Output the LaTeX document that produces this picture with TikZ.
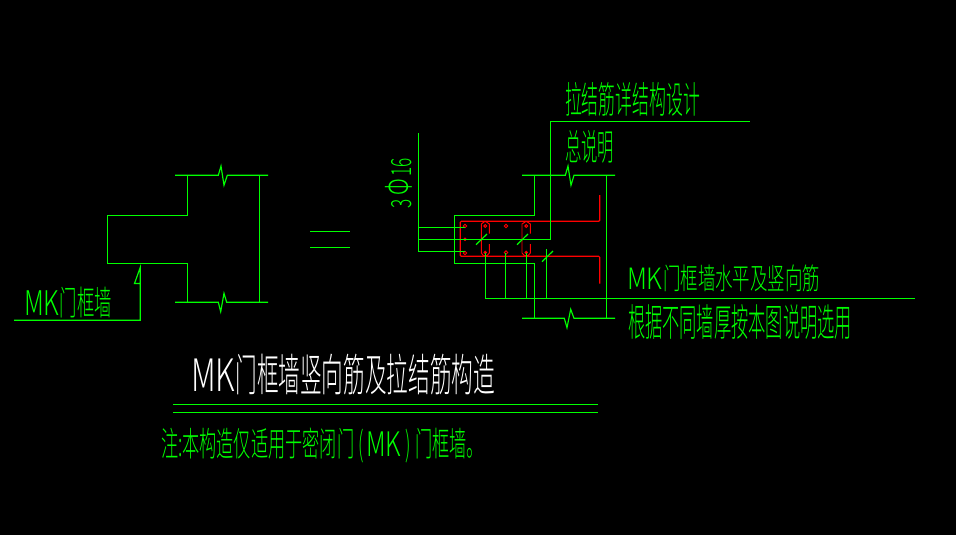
\documentclass[tikz,border=0pt]{standalone}
\usepackage{graphicx}
\usepackage{fontspec}
\newfontfamily\cjk[UprightFont=* Light]{Noto Sans CJK SC}
\definecolor{cadgreen}{RGB}{0,255,0}
\definecolor{cadred}{RGB}{255,0,0}
\newcommand{\fittext}[3]{\resizebox*{#1pt}{#2pt}{\cjk #3}}
\newcommand{\wl}[1]{\makebox[0.98em][c]{\scalebox{1.45}[1]{#1}}}
\tikzset{
  gl/.style={draw=cadgreen,line width=1.15pt},
  rl/.style={draw=cadred,line width=1.15pt},
  bar/.style={draw=cadred,line width=0.95pt},
  barfill/.style={draw=cadred,fill=cadred,line width=0.6pt},
  lab/.style={inner sep=0pt,outer sep=0pt,anchor=north west,text=cadgreen},
  titlelab/.style={lab,text=white}
}
\begin{document}
\begin{tikzpicture}[x=1pt,y=-1pt]
\fill[black] (0,0) rectangle (956,535);
\useasboundingbox (0,0) rectangle (956,535);
% left wall
\draw[gl] (175,175.3) -- (218.3,175.3) -- (221,166) -- (224,185.3) -- (227.3,175.3) -- (268,175.3);
\draw[gl] (187.3,175.3) -- (187.3,215.3) -- (107.3,215.3) -- (107.3,263.3) -- (187.3,263.3) -- (187.3,302.3);
\draw[gl] (175,302.3) -- (218.3,302.3) -- (220.7,311.7) -- (224,293.3) -- (226.7,302.3) -- (268,302.3);
\draw[gl] (259.5,175.3) -- (259.5,302.3);
% equals
\draw[gl] (310,231.3) -- (350,231.3);
\draw[gl] (310,247.3) -- (350,247.3);
% MK leader
\draw[gl] (14,320.3) -- (140.3,320.3) -- (140.3,267.3) -- (134.5,283.5) -- (140.3,283.5);
% right wall
\draw[gl] (522,175.3) -- (565.3,175.3) -- (568,166) -- (571,185.3) -- (574,175.3) -- (615,175.3);
\draw[gl] (534.3,175.3) -- (534.3,215.3) -- (454.3,215.3) -- (454.3,263.3) -- (534.3,263.3) -- (534.3,318.3);
\draw[gl] (522,318.3) -- (564.3,318.3) -- (567,327.7) -- (570.7,309.3) -- (574,318.3) -- (615,318.3);
\draw[gl] (606.3,175.3) -- (606.3,318.3);
% red bars
\draw[rl,rounded corners=1pt] (599.7,195) -- (599.7,221.3) -- (460.3,221.3) -- (460.3,256.3) -- (599.7,256.3) -- (599.7,283.7);
% stirrups
\draw[bar] (489.3,233.7) -- (489.3,224) -- (486,221.7) -- (484.5,221.7) -- (481.3,224) -- (481.3,253) -- (483.5,255.7) -- (487,255.7) -- (489.3,253) -- (489.3,244);
\draw[bar] (530.3,233.7) -- (530.3,224) -- (527,221.7) -- (525.5,221.7) -- (522,224) -- (522,253) -- (524.5,255.7) -- (528,255.7) -- (530.3,253) -- (530.3,244);
% rebars
\draw[bar] (465,226) circle (1.7);
\draw[barfill] (465,239.3) circle (1.4);
\draw[bar] (465,253) circle (1.7);
\draw[bar] (485.3,226) circle (1.4);
\draw[bar] (506,226) circle (1.7);
\draw[bar] (526.3,226) circle (1.4);
\draw[barfill] (485.3,252.5) circle (1.4);
\draw[bar] (506,252.5) circle (1.7);
\draw[barfill] (526.3,252.5) circle (1.4);
% top-left leaders
\draw[gl] (418.3,133.3) -- (418.3,251.3) -- (465,251.3);
\draw[gl] (418.3,227.3) -- (465,227.3);
\draw[gl] (418.3,239.3) -- (550.3,239.3) -- (550.3,121.3) -- (750,121.3);
% bottom comb
\draw[gl] (485.3,252.5) -- (485.3,298.3) -- (915,298.3);
\draw[gl] (505.5,252.5) -- (505.5,298.3);
\draw[gl] (526.3,252.5) -- (526.3,298.3);
\draw[gl] (546.3,249) -- (546.3,298.3);
% ticks
\draw[gl] (476,244.7) -- (487,234);
\draw[gl] (517,244.7) -- (528,234);
\draw[gl] (542,261.7) -- (553,251);
% double rule
\draw[gl] (173,404.3) -- (598,404.3);
\draw[gl] (173,412.3) -- (598,412.3);
% text
\node[lab] (t1) at (565,82) {\fittext{135}{34}{拉结筋详结构设计}};
\node[lab] (t2) at (565,130) {\fittext{49}{33}{总说明}};
\node[lab,rotate=90,anchor=north east] (t3) at (385,158) {\fittext{50}{27}{3\,\scalebox{1.25}{Φ}\,16}};
\node[lab] (t4) at (26,287) {\fittext{86}{31}{\wl{M}\wl{K}门框墙}};
\node[lab] (t5) at (629,265) {\fittext{191}{27}{\wl{M}\wl{K}门框墙水平及竖向筋}};
\node[lab] (t6) at (628,305) {\fittext{224}{35}{根据不同墙厚按本图说明选用}};
\node[titlelab] (t7) at (193,354) {\fittext{302}{41}{\wl{M}\wl{K}门框墙竖向筋及拉结筋构造}};
\node[lab] (t8) at (161,428) {\fittext{323}{35}{注:本构造仅适用于密闭门\makebox[0.8em][c]{(}\wl{M}\wl{K}\makebox[0.8em][c]{)}门框墙。}};
\end{tikzpicture}
\end{document}
